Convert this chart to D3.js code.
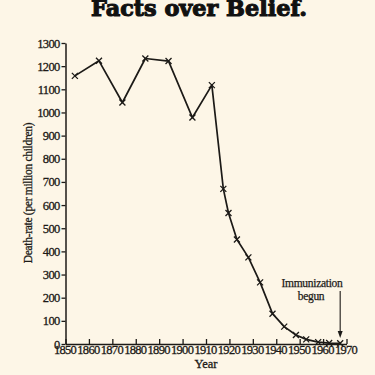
<!DOCTYPE html>
<html><head><meta charset="utf-8">
<script src="https://cdn.jsdelivr.net/npm/d3@7/dist/d3.min.js"></script>
<style>
html,body{margin:0;padding:0;background:#fdf6e7;}
svg{display:block;}
</style></head>
<body>
<svg id="c" width="375" height="375"></svg>
<script>
const years = [1854, 1864.3, 1874.3, 1884.1, 1894, 1904.2, 1912.5, 1917.4, 1919.6, 1923.2, 1928.1, 1933.1, 1938.4, 1943.4, 1948.4, 1952.8, 1957.9, 1962.6, 1967.3];
const deathRate = [1158, 1223, 1043, 1233, 1222, 978, 1118, 670, 566, 451, 374, 266, 131, 75, 39, 20, 8, 4, 3];
const xTicks = [1850,1860,1870,1880,1890,1900,1910,1920,1930,1940,1950,1960,1970];
const yTicks = [0,100,200,300,400,500,600,700,800,900,1000,1100,1200,1300];
const title = "Facts over Belief.";
const xLabel = "Year";
const yLabel = "Death-rate (per million children)";
const noteLines = ["Immunization", "begun"];
const noteYear = 1967.3;

const svg = d3.select("#c");
const ink = "#1c1a17";
const serif = "'Liberation Serif','DejaVu Serif',serif";

svg.append("rect").attr("width",375).attr("height",375).attr("fill","#fdf6e7");

const x = d3.scaleLinear().domain([1850,1970]).range([65.5,346.5]);
const y = d3.scaleLinear().domain([0,1300]).range([344,43]);

// title
svg.append("text").attr("x",199).attr("y",16).attr("text-anchor","middle")
  .attr("font-family","'DejaVu Serif',serif").attr("font-weight","bold")
  .attr("font-size",22.5).attr("fill","#111").attr("stroke","#111").attr("stroke-width",1.1)
  .attr("textLength",216).attr("lengthAdjust","spacingAndGlyphs")
  .text(title);

// y axis
const gy = svg.append("g").attr("transform",`translate(${x(1850)},0)`)
  .call(d3.axisLeft(y).tickValues(yTicks).tickSize(4).tickSizeOuter(0).tickFormat(d3.format("d")));
gy.select(".domain").attr("stroke",ink).attr("stroke-width",1.5);
gy.selectAll(".tick line").attr("stroke",ink).attr("stroke-width",1.3);
gy.selectAll(".tick text").attr("font-family",serif).attr("font-size",12.5)
  .attr("letter-spacing","-0.7px").attr("fill",ink).attr("stroke",ink).attr("stroke-width",0.3).attr("x",-6);

// x axis
const gx = svg.append("g").attr("transform",`translate(0,${y(0)})`)
  .call(d3.axisBottom(x).tickValues(xTicks).tickSize(-5).tickSizeOuter(0).tickFormat(d3.format("d")));
gx.select(".domain").attr("stroke",ink).attr("stroke-width",1.5);
gx.selectAll(".tick line").attr("stroke",ink).attr("stroke-width",1.3);
gx.selectAll(".tick text").attr("font-family",serif).attr("font-size",12.5)
  .attr("letter-spacing","-0.7px").attr("fill",ink).attr("stroke",ink).attr("stroke-width",0.3).attr("y",1.5).attr("dx","-1");

// axis labels
svg.append("text").attr("x",206).attr("y",368).attr("text-anchor","middle")
  .attr("font-family",serif).attr("font-size",12.5).attr("fill",ink).attr("stroke",ink).attr("stroke-width",0.3).text(xLabel);
svg.append("text").attr("transform","translate(32,193) rotate(-90)").attr("text-anchor","middle")
  .attr("font-family",serif).attr("font-size",11.5).attr("letter-spacing","-0.3px").attr("fill",ink).attr("stroke",ink).attr("stroke-width",0.3).text(yLabel);

// line
const pts = years.map((yr,i)=>[yr,deathRate[i]]);
svg.append("path").datum(pts)
  .attr("d",d3.line().x(d=>x(d[0])).y(d=>y(d[1])))
  .attr("fill","none").attr("stroke",ink).attr("stroke-width",1.7).attr("stroke-linejoin","round");

// x markers
const s = 3;
svg.append("g").selectAll("path").data(pts).join("path")
  .attr("d",d=>{const cx=x(d[0]),cy=y(d[1]);return `M${cx-s},${cy-s}L${cx+s},${cy+s}M${cx-s},${cy+s}L${cx+s},${cy-s}`;})
  .attr("stroke",ink).attr("stroke-width",1.3).attr("fill","none");

// annotation
const ax = x(noteYear);
svg.append("text").attr("x",312).attr("y",287).attr("text-anchor","middle")
  .attr("font-family",serif).attr("font-size",11.5).attr("letter-spacing","-0.3px").attr("fill",ink).attr("stroke",ink).attr("stroke-width",0.25).text(noteLines[0]);
svg.append("text").attr("x",311).attr("y",299.5).attr("text-anchor","middle")
  .attr("font-family",serif).attr("font-size",11.5).attr("letter-spacing","-0.3px").attr("fill",ink).attr("stroke",ink).attr("stroke-width",0.25).text(noteLines[1]);
svg.append("line").attr("x1",ax).attr("x2",ax).attr("y1",291).attr("y2",333)
  .attr("stroke",ink).attr("stroke-width",1.1);
svg.append("path").attr("d",`M${ax-2.5},${331}L${ax+2.5},${331}L${ax},${338}Z`).attr("fill",ink);
</script>
</body></html>
